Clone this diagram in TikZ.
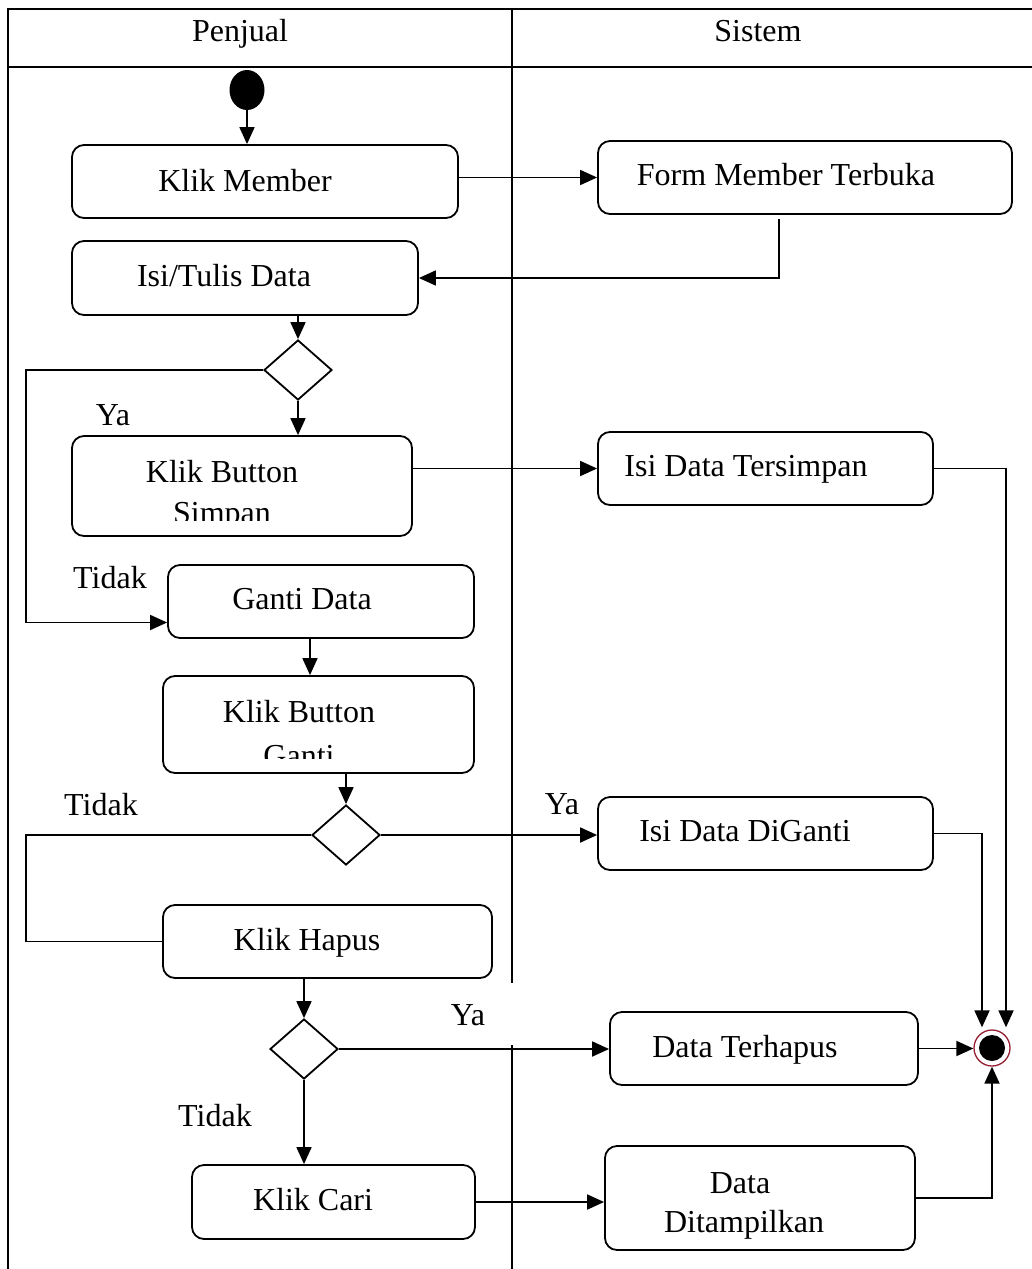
\documentclass[tikz,border=0pt]{standalone}
\usepackage{fontspec}
\setmainfont{Liberation Serif}
\usetikzlibrary{arrows.meta,shapes.geometric,fit}
\definecolor{ringred}{RGB}{150,30,50}
\begin{document}
\begin{tikzpicture}[x=1pt,y=-1pt,
  font=\fontsize{32}{40}\selectfont,
  box/.style={draw, line width=1.8pt, rounded corners=12pt, inner sep=0pt},
  txt/.style={anchor=base, inner sep=0pt},
  dec/.style={draw, diamond, line width=1.8pt, minimum width=68pt, minimum height=60pt, inner sep=0pt, aspect=1.13},
  conn/.style={line width=1.8pt},
  arr/.style={conn, -{Triangle[length=17pt,width=15pt]}},
  frame/.style={line width=2.6pt},
  lane/.style={line width=2pt}]
\useasboundingbox (0,0) rectangle (1032,1269);
% frame and swimlanes
\draw[frame] (8,1269) -- (8,9) -- (1032,9);
\draw[frame] (8,67) -- (1032,67);
\draw[lane] (512,9) -- (512,983);
\draw[lane] (512,1045) -- (512,1269);
\node[txt] (hp) at (240,41) {Penjual};
\node[txt] (hs) at (758,41) {Sistem};
\coordinate (lx1) at (26,0);
% nodes
\node[ellipse, fill=black, minimum width=35pt, minimum height=40pt, inner sep=0pt] (start) at (247,90) {};
\node[box, fit={(72,145) (458,218)}] (km) {};
\node[txt] (kmt) at (245,191) {Klik Member};
\node[box, fit={(598,141) (1012,214)}] (fm) {};
\node[txt] (fmt) at (786,185) {Form Member Terbuka};
\node[box, fit={(72,241) (418,315)}] (itd) {};
\node[txt] (itdt) at (224,286) {Isi/Tulis Data};
\node[dec] (d1) at (298,370) {};
\node[txt] (ya1) at (113,425) {Ya};
\node[box, fit={(72,436) (412,536)}] (kbs) {};
\begin{scope}
\clip (72,436) rectangle (412,520);
\node[txt] (kbst1) at (222,482) {Klik Button};
\node[txt] (kbst2) at (222,523) {Simpan};
\end{scope}
\node[box, fit={(598,432) (933,505)}] (idt) {};
\node[txt] (idtt) at (746,476) {Isi Data Tersimpan};
\node[txt] (td1) at (110,588) {Tidak};
\node[box, fit={(168,565) (474,638)}] (gd) {};
\node[txt] (gdt) at (302,609) {Ganti Data};
\node[box, fit={(163,676) (474,773)}] (kbg) {};
\begin{scope}
\clip (163,676) rectangle (474,758);
\node[txt] (kbgt1) at (299,722) {Klik Button};
\node[txt] (kbgt2) at (299,766) {Ganti};
\end{scope}
\node[dec] (d2) at (346,835) {};
\node[txt] (td2) at (101,815) {Tidak};
\node[txt] (ya2) at (562,814) {Ya};
\node[box, fit={(598,797) (933,870)}] (idg) {};
\node[txt] (idgt) at (745,841) {Isi Data DiGanti};
\node[box, fit={(163,905) (492,978)}] (kh) {};
\node[txt] (kht) at (307,950) {Klik Hapus};
\node[dec] (d3) at (304,1049) {};
\node[txt] (ya3) at (468,1025) {Ya};
\node[box, fit={(610,1012) (918,1085)}] (dt) {};
\node[txt] (dtt) at (745,1057) {Data Terhapus};
\node[txt] (td3) at (215,1126) {Tidak};
\node[box, fit={(192,1165) (475,1239)}] (kc) {};
\node[txt] (kct) at (313,1210) {Klik Cari};
\node[box, fit={(605,1146) (915,1250)}] (dd) {};
\node[txt] (ddt1) at (740,1193) {Data};
\node[txt] (ddt2) at (744,1232) {Ditampilkan};
\node[circle, draw=ringred, line width=1.3pt, minimum size=36pt, inner sep=0pt] (final) at (992,1048) {};
\node[circle, fill=black, minimum size=26pt, inner sep=0pt] (finaldot) at (final.center) {};
% connectors
\draw[arr] (start.south) -- (start.south |- km.north);
\draw[arr] (km.east |- fm.west) -- (fm.west);
\draw[arr] ([xshift=-26pt,yshift=-4pt]fm.south) |- (itd.east);
\draw[arr] (itd.south -| d1.north) -- (d1.north);
\coordinate (g1) at ([yshift=-21pt]gd.west);
\draw[arr] (d1.west) -| (lx1 |- g1) -- (g1);
\draw[arr] (d1.south) -- (d1.south |- kbs.north);
\draw[arr] (kbs.east |- idt.west) -- (idt.west);
\draw[arr] (idt.east) -| ([xshift=14pt,yshift=2pt]final.north);
\draw[arr] ([xshift=-11pt]gd.south) -- ([xshift=-11pt]gd.south |- kbg.north);
\draw[arr] (kbg.south -| d2.north) -- (d2.north);
\draw[conn] (d2.west) -| (lx1 |- kh.west) -- (kh.west);
\draw[arr] (d2.east) -- (d2.east -| idg.west);
\draw[arr] (idg.east) -| ([xshift=-10pt,yshift=2pt]final.north);
\draw[arr] (kh.south -| d3.north) -- (d3.north);
\draw[arr] (d3.east) -- (d3.east -| dt.west);
\draw[arr] (dt.east) -- (dt.east -| final.west);
\draw[arr] (d3.south) -- (d3.south |- kc.north);
\draw[arr] (kc.east) -- (kc.east -| dd.west);
\draw[arr] (dd.east) -| (final.south);
\end{tikzpicture}
\end{document}
